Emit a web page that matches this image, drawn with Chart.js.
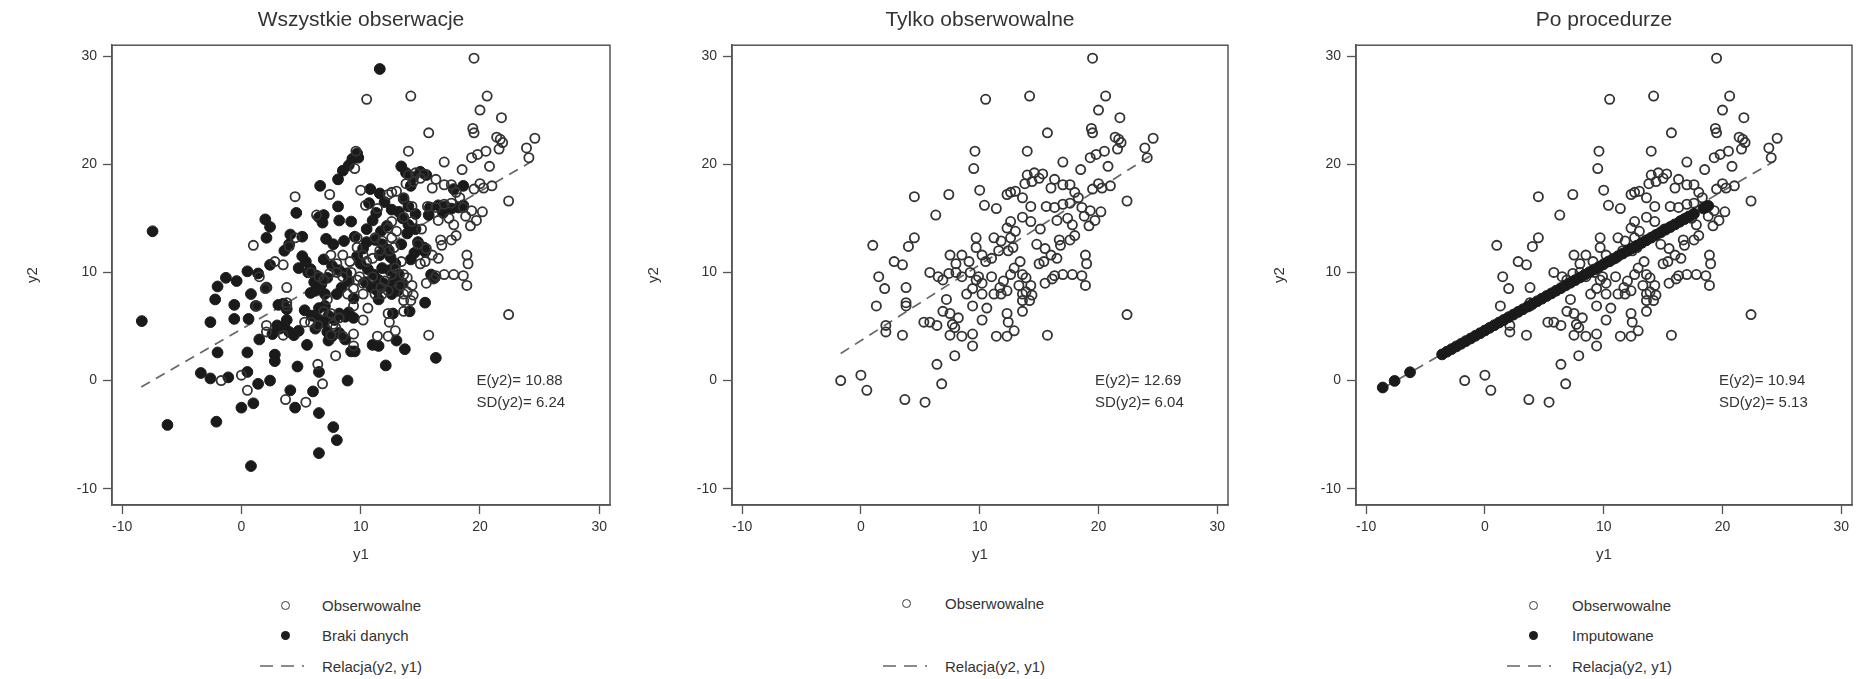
<!DOCTYPE html>
<html><head><meta charset="utf-8">
<script src="https://cdn.jsdelivr.net/npm/chart.js@4.4.0/dist/chart.umd.min.js"></script>
<style>
html,body{margin:0;padding:0;background:#fff;width:1859px;height:679px;overflow:hidden;position:relative;}
.pane{position:absolute;top:0;}
.leg{position:absolute;font:15px "Liberation Sans",Arial,sans-serif;color:#333;white-space:nowrap;line-height:18px;}
.oc{position:absolute;width:7px;height:7px;border:1.6px solid #3a3a3a;border-radius:50%;}
.fc{position:absolute;width:9px;height:9px;background:#1e1e1e;border-radius:50%;}
.ds{position:absolute;}
</style></head><body>
<div class="pane" style="left:0px"><canvas id="c1" width="620" height="580"></canvas></div>
<div class="pane" style="left:620px"><canvas id="c2" width="620" height="580"></canvas></div>
<div class="pane" style="left:1240px"><canvas id="c3" width="619" height="580"></canvas></div>

<!-- legends -->
<div class="oc" style="left:281px;top:601px"></div><div class="leg" style="left:322px;top:597px">Obserwowalne</div>
<div class="fc" style="left:281px;top:631px"></div><div class="leg" style="left:322px;top:627px">Braki danych</div>
<svg class="ds" style="left:260px;top:662px" width="44" height="8"><line x1="0" y1="4" x2="44" y2="4" stroke="#666" stroke-width="1.6" stroke-dasharray="13,8"/></svg>
<div class="leg" style="left:322px;top:658px">Relacja(y2, y1)</div>

<div class="oc" style="left:902px;top:599px"></div><div class="leg" style="left:945px;top:595px">Obserwowalne</div>
<svg class="ds" style="left:883px;top:662px" width="44" height="8"><line x1="0" y1="4" x2="44" y2="4" stroke="#666" stroke-width="1.6" stroke-dasharray="13,8"/></svg>
<div class="leg" style="left:945px;top:658px">Relacja(y2, y1)</div>

<div class="oc" style="left:1529px;top:601px"></div><div class="leg" style="left:1572px;top:597px">Obserwowalne</div>
<div class="fc" style="left:1529px;top:631px"></div><div class="leg" style="left:1572px;top:627px">Imputowane</div>
<svg class="ds" style="left:1507px;top:662px" width="44" height="8"><line x1="0" y1="4" x2="44" y2="4" stroke="#666" stroke-width="1.6" stroke-dasharray="13,8"/></svg>
<div class="leg" style="left:1572px;top:658px">Relacja(y2, y1)</div>

<script>
// ---------------- DATA ----------------
const titles = ['Wszystkie obserwacje', 'Tylko obserwowalne', 'Po procedurze'];
const statsText = [
  ['E(y2)= 10.88', 'SD(y2)= 6.24'],
  ['E(y2)= 12.69', 'SD(y2)= 6.04'],
  ['E(y2)= 10.94', 'SD(y2)= 5.13']
];
const xTicks = [-10, 0, 10, 20, 30];
const yTicks = [-10, 0, 10, 20, 30];

// observed (y1, y2)
const obsY1 = [
19.5,10.5,14.2,20.6,20.0,21.8,15.7,19.5,19.4,21.4,
21.7,21.9,21.6,24.6,23.9,24.1,9.6,14.0,20.5,19.8,
19.3,20.8,17.0,18.5,9.5,14.0,14.6,15.0,14.4,13.8,
15.3,16.3,16.0,17.0,17.6,18.0,18.3,20.0,19.5,22.4,
10.0,7.4,12.3,12.6,4.5,10.4,11.4,13.6,14.3,15.6,
16.3,17.0,17.6,18.6,19.3,18.8,20.2,19.7,19.2,13.6,
12.6,12.3,15.1,14.3,6.3,4.5,4.0,1.0,9.7,9.7,
11.2,11.8,12.6,12.8,12.4,16.7,17.6,18.0,15.5,16.0,
16.5,7.5,8.5,9.1,10.2,10.5,2.8,3.5,18.9,19.0,
13.4,12.9,12.6,13.6,13.9,13.3,14.3,13.9,5.8,6.5,
6.9,1.5,8.0,8.5,9.2,9.9,10.2,9.7,16.3,17.0,
17.8,16.1,2.0,3.8,18.9,8.9,10.2,11.2,11.8,12.3,
13.6,14.4,13.6,14.2,1.3,3.8,3.8,7.2,9.4,10.6,
6.9,7.5,12.3,13.6,12.4,22.4,10.2,5.3,5.8,6.4,
7.7,7.9,2.1,2.1,3.5,7.5,8.5,9.4,11.4,12.3,
12.9,15.7,9.4,7.9,6.4,-1.7,0.0,0.5,6.8,3.7,
5.4,13.0,14.8,15.4,11.6,11.0,8.0,7.4,15.0,16.8,
17.4,16.5,17.8,12.0,11.0,15.5,18.6,20.3,21.0,13.0,11.7,9.4,8.2];
const obsY2 = [
29.8,26.0,26.3,26.3,25.0,24.3,22.9,22.9,23.3,22.5,
22.3,22.0,21.4,22.4,21.5,20.6,21.2,21.2,21.2,20.9,
20.6,19.8,20.2,19.5,19.6,19.0,19.2,18.7,18.4,18.2,
19.1,18.6,17.8,18.1,18.1,17.4,16.9,18.2,17.7,16.6,
17.6,17.2,17.2,17.4,17.0,16.2,15.9,16.9,16.1,16.1,
16.0,16.3,16.4,16.0,15.7,15.2,15.6,14.8,14.3,15.1,
14.7,14.1,14.0,14.7,15.3,13.2,12.4,12.5,13.2,12.3,
13.2,12.9,13.2,12.3,12.0,13.0,13.0,13.4,12.2,11.6,
11.3,11.6,11.6,11.0,11.6,11.0,11.0,10.7,11.6,10.8,
11.0,10.4,9.8,9.8,9.5,8.8,8.8,8.2,10.0,9.6,
9.3,9.6,10.0,9.6,10.0,9.6,9.0,9.3,9.7,9.8,
9.8,9.4,8.5,8.6,8.8,8.0,8.0,8.0,8.0,8.3,
8.0,7.9,7.4,7.4,6.9,7.2,6.9,7.5,6.9,6.7,
6.4,6.2,6.2,6.4,5.4,6.1,5.6,5.4,5.4,5.1,
5.2,4.9,4.5,5.1,4.2,4.2,4.1,4.3,4.1,4.1,
4.6,4.2,3.2,2.3,1.5,0.0,0.5,-0.9,-0.3,-1.75,
-2.0,13.8,12.6,11.0,12.0,11.3,10.8,9.9,10.8,12.5,
15.0,14.8,14.4,9.2,9.6,9.0,9.7,17.8,18.0,17.5,8.6,8.5,5.8];

// missing y2 (braki danych): (y1, y2)
const missY1 = [
11.6,-7.45,-8.35,-6.2,-2.1,0.8,6.5,7.7,8.0,6.5,
6.0,4.5,4.1,4.7,6.5,8.9,0.0,1.0,1.4,2.4,
0.5,0.5,-2.0,-3.4,-2.6,-1.1,2.8,2.8,-2.6,-0.6,
-0.6,-2.2,-2.0,-1.3,-0.4,0.6,0.8,1.2,1.5,0.5,
1.4,2.1,2.4,2.0,2.4,2.1,3.1,3.0,3.2,3.6,
4.0,4.4,3.8,4.8,2.6,3.5,3.8,3.6,4.1,4.0,
4.6,5.1,5.1,4.8,5.6,6.1,5.8,5.3,5.5,5.9,
6.4,6.9,7.3,7.8,8.2,8.7,9.0,9.4,6.2,7.2,
7.6,8.2,6.5,7.0,7.3,8.2,8.8,9.0,8.4,8.0,
9.4,5.4,5.8,6.3,6.7,6.2,7.0,7.2,7.6,6.9,
6.6,6.9,6.8,8.1,8.1,8.5,9.0,9.3,9.7,9.8,
8.2,9.2,7.1,7.7,8.6,9.5,6.5,10.5,11.2,11.8,
12.3,11.6,12.5,12.9,10.6,11.1,11.5,11.9,12.3,12.8,
13.2,10.4,10.9,11.4,12.6,13.1,13.5,10.0,9.7,10.2,
11.8,12.4,11.5,10.8,11.6,12.0,12.6,11.3,11.0,12.2,
11.7,10.5,10.7,13.4,13.8,14.4,15.0,15.5,14.2,13.6,
14.0,13.2,14.6,13.5,14.0,14.6,13.9,14.8,15.3,14.5,
15.4,13.4,14.2,15.8,16.5,17.1,17.6,18.2,18.6,16.9,
18.6,17.8,15.7,14.1,15.4,15.9,16.2,12.7,8.7,9.2,
9.5,11.0,11.5,12.1,13.7,13.0,16.3];
const missY2 = [
28.8,13.8,5.5,-4.1,-3.8,-7.9,-6.7,-4.3,-5.5,-3.0,
-1.0,-2.5,-0.9,1.3,0.8,0.0,-2.5,-2.1,-0.3,0.0,
0.8,2.6,2.6,0.7,0.2,0.3,2.4,1.8,5.4,5.7,
7.0,7.5,8.7,9.5,9.2,5.7,8.0,6.9,3.8,10.1,
9.9,8.6,10.7,14.9,14.2,13.2,7.0,5.1,4.8,5.0,
4.5,4.2,5.6,4.6,4.3,7.1,6.6,12.0,13.5,12.6,
15.5,13.3,11.5,10.4,10.0,9.1,8.1,6.5,3.3,6.0,
5.7,5.4,6.0,5.6,6.2,5.9,6.3,5.8,4.8,4.5,
4.1,4.4,6.7,6.9,3.7,10.2,9.9,9.2,8.6,8.0,
7.6,11.0,10.3,9.7,8.9,8.3,8.0,9.5,10.6,11.2,
18.0,15.3,14.6,16.1,18.6,19.4,19.9,20.5,21.0,20.6,
14.8,14.7,13.1,12.6,12.9,13.3,15.1,12.8,13.0,12.6,
12.1,11.6,11.4,10.8,10.3,9.8,9.3,9.0,8.7,9.3,
9.8,9.1,8.6,8.3,8.0,8.3,9.0,10.8,11.5,12.2,
10.4,10.2,7.5,17.7,17.3,16.5,15.8,15.5,14.8,14.3,
13.8,14.0,16.4,19.8,19.2,18.8,19.3,19.0,18.0,16.8,
16.1,15.6,15.4,15.0,14.4,14.0,13.6,12.8,12.3,11.8,
11.9,12.6,11.2,16.0,16.2,16.1,15.9,16.0,16.2,15.5,
18.0,17.7,15.3,6.4,7.2,9.8,9.5,6.2,3.8,2.7,
2.7,3.3,3.2,1.4,2.9,3.7,2.1];

// imputed values (Po procedurze), read along the imputation band
const impY1 = [-8.6,-7.6,-6.3,-3.6,-3.2,-2.8,-2.4,-2.0,-1.6,-1.2,-0.8,-0.4,0.0,0.4,0.8,1.2,1.6,2.0,2.4,2.8,3.2,3.6,4.0,4.4,4.8,5.2,5.6,6.0,6.4,6.8,7.2,7.6,8.0,8.4,8.8,9.2,9.6,10.0,10.4,10.8,11.2,11.6,12.0,12.4,12.8,13.2,13.6,14.0,14.4,14.8,15.2,15.6,16.0,16.4,16.8,17.2,17.6,18.4,18.6,18.8];
const impY2 = [-0.64,-0.03,0.77,2.42,2.67,2.91,3.16,3.40,3.65,3.89,4.14,4.38,4.63,4.88,5.12,5.37,5.61,5.86,6.10,6.35,6.59,6.84,7.08,7.33,7.57,7.82,8.06,8.31,8.55,8.80,9.04,9.29,9.53,9.78,10.02,10.27,10.51,10.76,11.01,11.25,11.50,11.74,11.99,12.23,12.48,12.72,12.97,13.21,13.46,13.70,13.95,14.19,14.44,14.68,14.93,15.17,15.42,15.91,16.03,16.15];

// Relacja(y2, y1) endpoints
const relAllY1 = [-8.4, 24.4];
const relAllY2 = [-0.6, 20.3];
const relObsY1 = [-1.7, 24.4];
const relObsY2 = [2.5, 20.8];

// ---------------- CHARTS ----------------
const FONT = '"Liberation Sans", Arial, Helvetica, sans-serif';
const X_MIN = -10.85, X_MAX = 30.9, Y_MIN = -11.5, Y_MAX = 31.0;
const pts = (xs, ys) => xs.map((x, i) => ({x: x, y: ys[i]}));

const deco = {
  id: 'deco',
  afterDraw(chart, args, opts) {
    const {ctx, chartArea: a, scales} = chart;
    ctx.save();
    ctx.strokeStyle = '#555';
    ctx.lineWidth = 1.5;
    ctx.strokeRect(a.left, a.top, a.right - a.left, a.bottom - a.top);
    ctx.fillStyle = '#333';
    ctx.font = '15px ' + FONT;
    ctx.textAlign = 'left';
    ctx.textBaseline = 'middle';
    const x = scales.x.getPixelForValue(19.7);
    ctx.fillText(opts.stats[0], x, scales.y.getPixelForValue(0));
    ctx.fillText(opts.stats[1], x, scales.y.getPixelForValue(-2.1));
    ctx.restore();
  }
};

function openSet(label, data, order) {
  return {type: 'scatter', label, data, order, pointStyle: 'circle', pointRadius: 4.6,
    backgroundColor: 'rgba(255,255,255,0)', borderColor: '#333', borderWidth: 1.8};
}
function filledSet(label, data, order) {
  return {type: 'scatter', label, data, order, pointStyle: 'circle', pointRadius: 5.4,
    backgroundColor: '#1a1a1a', borderColor: '#1a1a1a', borderWidth: 1};
}
function lineSet(data, order) {
  return {type: 'line', label: 'Relacja(y2, y1)', data, order, showLine: true, pointRadius: 0,
    borderColor: '#666', borderWidth: 1.7, borderDash: [10, 7], fill: false, tension: 0};
}

function makeChart(id, datasets, idx, yW, padR, yTitleX) {
  return new Chart(document.getElementById(id), {
    type: 'scatter',
    data: {datasets},
    plugins: [deco],
    options: {
      responsive: false, animation: false, events: [],
      layout: {padding: {left: 0, right: padR, top: 0, bottom: 0}},
      plugins: {
        legend: {display: false}, tooltip: {enabled: false},
        title: {display: true, text: titles[idx], fullSize: false, color: '#333',
          font: {family: FONT, size: 21, weight: 'normal'}, padding: {top: 8, bottom: 12}},
        deco: {stats: statsText[idx]}
      },
      scales: {
        x: {type: 'linear', position: 'bottom', min: X_MIN, max: X_MAX,
          afterBuildTicks: s => { s.ticks = xTicks.map(v => ({value: v})); },
          afterFit: s => { s.height = 75; },
          grid: {drawOnChartArea: false, drawTicks: true, tickLength: 9, color: '#555', tickWidth: 1.3},
          border: {display: true, color: '#555', width: 1.5},
          ticks: {font: {family: FONT, size: 14}, color: '#333', padding: 5, maxRotation: 0, autoSkip: false},
          title: {display: true, text: 'y1', color: '#333', font: {family: FONT, size: 15}, padding: {top: 0, bottom: 16}}
        },
        y: {type: 'linear', position: 'left', min: Y_MIN, max: Y_MAX,
          afterBuildTicks: s => { s.ticks = yTicks.map(v => ({value: v})); },
          afterFit: s => { s.width = yW; },
          grid: {drawOnChartArea: false, drawTicks: true, tickLength: 9, color: '#555', tickWidth: 1.3},
          border: {display: true, color: '#555', width: 1.5},
          ticks: {font: {family: FONT, size: 14}, color: '#333', padding: 6, autoSkip: false},
          title: {display: true, text: 'y2', color: '#333', font: {family: FONT, size: 15}, padding: {top: yTitleX - 9, bottom: 0}}
        }
      }
    }
  });
}

makeChart('c1', [
  openSet('Obserwowalne', pts(obsY1, obsY2), 1),
  filledSet('Braki danych', pts(missY1, missY2), 2),
  lineSet(pts(relAllY1, relAllY2), 3)
], 0, 112, 10, 33);

makeChart('c2', [
  openSet('Obserwowalne', pts(obsY1, obsY2), 1),
  lineSet(pts(relObsY1, relObsY2), 2)
], 1, 112, 12, 34);

makeChart('c3', [
  filledSet('Imputowane', pts(impY1, impY2), 0),
  openSet('Obserwowalne', pts(obsY1, obsY2), 1),
  lineSet(pts(relAllY1, relAllY2), 2)
], 2, 116, 7, 40);
</script>
</body></html>
